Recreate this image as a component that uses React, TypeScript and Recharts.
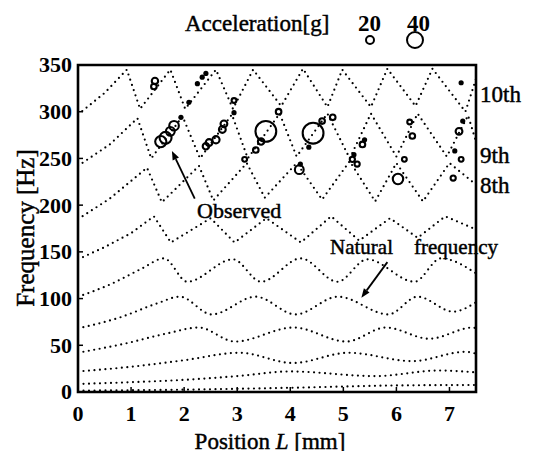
import React from 'react';
import {
  ComposedChart,
  Line,
  Scatter,
  XAxis,
  YAxis,
  ReferenceArea,
  ReferenceLine,
} from 'recharts';

const xTicks = [0, 1, 2, 3, 4, 5, 6, 7];
const yTicks = [0, 50, 100, 150, 200, 250, 300, 350];

// natural frequency curves: [position L (mm), frequency (Hz)]
const mode1 = [[0, 1.5], [2, 2.5], [4, 4.5], [6, 7], [7.5, 7.5]];
const mode2 = [[0, 8.6], [1, 10.5], [2, 13], [3, 17], [4, 22], [5.6, 17], [6.8, 23], [7.5, 21]];
const mode3 = [[0, 22], [1, 27], [2, 34], [3.05, 42], [4.05, 31], [5.1, 42], [6.3, 33], [7.3, 43], [7.5, 41]];
const mode4 = [[0, 42], [0.9, 52], [1.7, 63], [2.27, 69], [2.96, 54], [4.06, 69], [5.06, 54], [5.8, 69], [6.62, 57], [7.44, 69], [7.5, 68]];
const mode5 = [[0, 68], [0.8, 80], [1.5, 95], [1.92, 102], [2.52, 83], [3.35, 102], [4.1, 83], [4.9, 102], [5.85, 83], [6.4, 102], [7.07, 86], [7.5, 96]];
const mode6 = [[0, 102], [0.6, 115], [1.2, 132], [1.62, 143], [2.06, 118], [2.92, 142], [3.45, 118], [4.2, 143], [4.89, 118], [5.45, 142], [6.34, 118], [6.84, 143], [7.5, 127]];
const mode7 = [[0, 142], [0.5, 155], [1.0, 170], [1.43, 188], [1.75, 160], [2.5, 186], [2.95, 160], [3.55, 186], [4.2, 160], [4.77, 188], [5.3, 162], [5.88, 186], [6.4, 165], [6.92, 188], [7.5, 174]];
const mode8 = [[0, 185], [0.6, 207], [1.3, 240], [1.58, 203], [2.28, 242], [2.55, 205], [3.18, 245], [3.52, 208], [4.12, 245], [4.6, 206], [5.12, 247], [5.6, 204], [6.0, 245], [6.5, 204], [7.0, 245], [7.5, 222]];
const mode9 = [[0, 242], [0.6, 265], [1.12, 293], [1.38, 250], [1.97, 295], [2.3, 250], [2.9, 297], [3.2, 250], [3.8, 298], [4.12, 252], [4.7, 298], [5.12, 250], [5.52, 298], [6.0, 252], [6.4, 298], [6.95, 252], [7.35, 296], [7.5, 268]];
const mode10 = [[0, 297], [0.5, 320], [0.92, 345], [1.17, 303], [1.74, 345], [2.02, 303], [2.6, 345], [2.92, 303], [3.3, 345], [3.83, 306], [4.24, 346], [4.7, 305], [4.98, 345], [5.52, 305], [5.83, 346], [6.36, 306], [6.68, 346], [7.3, 300], [7.5, 335]];

const smoothModes = [mode1, mode2, mode3, mode4, mode5, mode6];
const zigzagModes = [mode7, mode8, mode9, mode10];

// observed resonances: position (mm), frequency (Hz), acceleration (g)
const obsL = [1.45, 1.43, 2.25, 2.34, 2.41, 2.09, 2.94, 2.94, 3.78, 1.94, 1.81, 1.74, 1.65, 1.56, 2.75, 2.72, 2.6, 2.47, 2.41, 3.54, 3.45, 3.35, 4.43, 4.6, 4.8, 4.35, 5.36, 5.4, 6.25, 6.3, 7.22, 7.18, 7.25, 7.1, 3.14, 4.17, 4.19, 5.17, 5.26, 5.2, 6.15, 6.03, 7.22, 7.07];
const obsF = [333, 327, 330, 337, 341, 310, 312, 299, 300, 294, 285, 279, 272, 268, 287, 281, 270, 267, 263, 279, 268, 259, 277, 290, 294, 262, 265, 270, 289, 274, 331, 279, 290, 258, 249, 238, 244, 249, 244, 254, 249, 228, 249, 229];
const obsAcc = [16, 14, 7, 7, 6, 7, 12, 7, 14, 7, 24, 22, 30, 28, 17, 17, 18, 17, 16, 52, 16, 14, 52, 14, 14, 7, 14, 7, 12, 14, 7, 17, 7, 7, 12, 22, 7, 13, 13, 7, 12, 26, 12, 13];

const legendAcc = [20, 40];

const FONT = '"Liberation Serif", "Times New Roman", serif';

const toPoints = (m: number[][]) => m.map(([L, f]) => ({ L, f }));
const obsData = obsL.map((L, i) => ({ L, f: obsF[i], acc: obsAcc[i] }));

const radiusOf = (acc: number) => acc / 5;

const ObsShape = (props: any) => {
  const { cx, cy, payload } = props;
  if (cx == null || cy == null) return null;
  if (payload.acc < 10) {
    return <circle cx={cx} cy={cy} r={2.6} fill="#000" />;
  }
  return <circle cx={cx} cy={cy} r={radiusOf(payload.acc)} fill="none" stroke="#000" strokeWidth={2.1} />;
};

const XTick = (props: any) => {
  const { x, y, payload } = props;
  return (
    <text x={x} y={y} dy="0.72em" textAnchor="middle" fontFamily={FONT} fontWeight="bold" fontSize={22} fill="#000">
      {payload.value}
    </text>
  );
};

const YTick = (props: any) => {
  const { x, y, payload } = props;
  return (
    <text x={x} y={y} dy="0.34em" textAnchor="end" fontFamily={FONT} fontWeight="bold" fontSize={22} fill="#000">
      {payload.value}
    </text>
  );
};

const Arrow = (props: any) => {
  const { x1, y1, x2, y2 } = props;
  if ([x1, y1, x2, y2].some((v) => v == null)) return null;
  const ang = Math.atan2(y2 - y1, x2 - x1);
  const len = 9;
  const w = 3.5;
  const bx = x2 - len * Math.cos(ang);
  const by = y2 - len * Math.sin(ang);
  const px = -Math.sin(ang) * w;
  const py = Math.cos(ang) * w;
  return (
    <g>
      <line x1={x1} y1={y1} x2={bx} y2={by} stroke="#000" strokeWidth={1.8} />
      <polygon points={`${x2},${y2} ${bx + px},${by + py} ${bx - px},${by - py}`} fill="#000" />
    </g>
  );
};

const txt: React.CSSProperties = {
  position: 'absolute',
  fontFamily: FONT,
  fontSize: 23,
  lineHeight: '23px',
  color: '#000',
  whiteSpace: 'nowrap',
  WebkitTextStroke: '0.45px #000',
};

const dotted = {
  stroke: '#000',
  strokeWidth: 2.2,
  strokeDasharray: '0 5.5',
  strokeLinecap: 'round' as const,
};

export default function App() {
  return (
    <div style={{ position: 'relative', width: 537, height: 443 }}>
      <ComposedChart
        width={537}
        height={443}
        margin={{ top: 57, right: 69, bottom: 19, left: 10 }}
      >
        <XAxis
          type="number"
          dataKey="L"
          domain={[0, 7.5]}
          ticks={xTicks}
          allowDataOverflow
          height={40}
          axisLine={false}
          tickSize={-5}
          tickMargin={18}
          tickLine={{ stroke: '#000', strokeWidth: 1.5 }}
          tick={<XTick />}
        />
        <YAxis
          type="number"
          dataKey="f"
          domain={[0, 350]}
          ticks={yTicks}
          allowDataOverflow
          width={60}
          axisLine={false}
          tickSize={-5}
          tickMargin={11}
          tickLine={{ stroke: '#000', strokeWidth: 1.5 }}
          tick={<YTick />}
        />
        {smoothModes.map((m, i) => (
          <Line
            key={`s${i}`}
            data={toPoints(m)}
            dataKey="f"
            type="monotone"
            {...dotted}
            dot={false}
            activeDot={false}
            isAnimationActive={false}
          />
        ))}
        {zigzagModes.map((m, i) => (
          <Line
            key={`z${i}`}
            data={toPoints(m)}
            dataKey="f"
            type="linear"
            {...dotted}
            dot={false}
            activeDot={false}
            isAnimationActive={false}
          />
        ))}
        <Scatter data={obsData} dataKey="f" shape={<ObsShape />} isAnimationActive={false} />
        <ReferenceLine segment={[{ x: 2.2, y: 207 }, { x: 1.77, y: 258 }]} shape={<Arrow />} />
        <ReferenceLine segment={[{ x: 5.83, y: 139 }, { x: 5.34, y: 101 }]} shape={<Arrow />} />
        <ReferenceArea x1={0} x2={7.5} y1={0} y2={350} fill="none" stroke="#000" strokeWidth={2.6} />
      </ComposedChart>

      <div style={{ ...txt, left: 177, top: 4 }}>Acceleration[g]</div>
      <div style={{ ...txt, left: 350, top: 4, fontWeight: 'bold', WebkitTextStroke: '0' }}>{legendAcc[0]}</div>
      <div style={{ ...txt, left: 399, top: 4, fontWeight: 'bold', WebkitTextStroke: '0' }}>{legendAcc[1]}</div>
      <svg style={{ position: 'absolute', left: 0, top: 0 }} width={537} height={60}>
        <circle cx={362} cy={32} r={radiusOf(legendAcc[0])} fill="none" stroke="#000" strokeWidth={2} />
        <circle cx={407} cy={32} r={radiusOf(legendAcc[1])} fill="none" stroke="#000" strokeWidth={2} />
      </svg>

      <div style={{ ...txt, left: 472, top: 75 }}>10th</div>
      <div style={{ ...txt, left: 472, top: 136 }}>9th</div>
      <div style={{ ...txt, left: 472, top: 166 }}>8th</div>
      <div style={{ ...txt, fontSize: 22, left: 189, top: 191 }}>Observed</div>
      <div style={{ ...txt, fontSize: 21, left: 322, top: 228 }}>Natural</div>
      <div style={{ ...txt, fontSize: 21, left: 406, top: 228 }}>frequency</div>

      <div
        style={{
          ...txt,
          fontSize: 25,
          left: 17,
          top: 220,
          transform: 'translate(-50%, -50%) rotate(-90deg)',
        }}
      >
        Frequency [Hz]
      </div>
      <div style={{ ...txt, fontSize: 23, left: 262, top: 433, transform: 'translate(-50%, -50%)' }}>
        Position <i>L</i> [mm]
      </div>
    </div>
  );
}
